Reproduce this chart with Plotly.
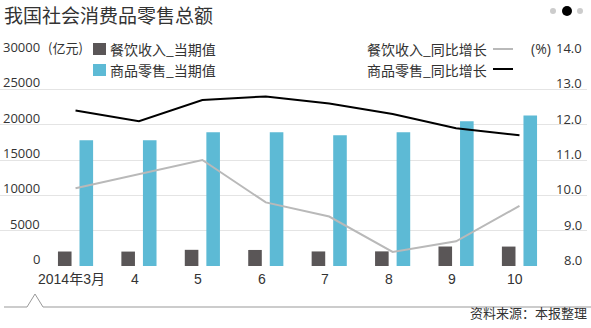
import plotly.graph_objects as go

# ---- data ----
months = ["2014年3月", "4", "5", "6", "7", "8", "9", "10"]
catering_value = [2050, 2040, 2290, 2270, 2060, 2070, 2760, 2750]          # 亿元
goods_value = [17800, 17800, 18930, 18930, 18510, 18930, 20490, 21300]     # 亿元
catering_yoy = [10.2, 10.6, 11.0, 9.8, 9.4, 8.4, 8.7, 9.7]                 # %
goods_yoy = [12.4, 12.1, 12.7, 12.8, 12.6, 12.3, 11.9, 11.7]               # %
left_ticks = [0, 5000, 10000, 15000, 20000, 25000, 30000]
right_ticks = [8.0, 9.0, 10.0, 11.0, 12.0, 13.0, 14.0]

title = "我国社会消费品零售总额"
source = "资料来源：本报整理"

# ---- style ----
DARK = "#5a5657"
BLUE = "#5dbad5"
GRAY_LINE = "#b9b9b9"
GRID = "#e4e4e4"
TEXT = "#333333"
CJK = "Noto Sans CJK SC"
NUM = "Open Sans"

W, H = 591, 328
M_L, M_R, M_T, M_B = 0, 4, 54, 62
PW = W - M_L - M_R
PH = H - M_T - M_B


def px_x(p):
    return (p - M_L) / PW


def px_y(p):
    return (H - M_B - p) / PH


x = list(range(len(months)))
# category 0 centred at ~75px, spacing ~63.4px
step = 63.4
x_range = [-(75.5 - M_L) / step, (len(months) - 1) + (M_L + PW - 519.5) / step]

fig = go.Figure()
fig.add_trace(go.Bar(x=x, y=catering_value, marker_color=DARK, marker_line_width=0,
                     name="餐饮收入_当期值"))
fig.add_trace(go.Bar(x=x, y=goods_value, marker_color=BLUE, marker_line_width=0,
                     name="商品零售_当期值"))
fig.add_trace(go.Scatter(x=x, y=catering_yoy, yaxis="y2", mode="lines",
                         line=dict(color=GRAY_LINE, width=2), name="餐饮收入_同比增长"))
fig.add_trace(go.Scatter(x=x, y=goods_yoy, yaxis="y2", mode="lines",
                         line=dict(color="#000000", width=2), name="商品零售_同比增长"))

annotations = []
# left axis labels
for v in left_ticks:
    annotations.append(dict(x=px_x(42), xref="paper", y=v, yref="y", text=str(v),
                            xanchor="right", yanchor="middle", yshift=7, showarrow=False,
                            font=dict(family=NUM, size=13, color=TEXT)))
annotations.append(dict(x=px_x(46), xref="paper", y=left_ticks[-1], yref="y", text="(亿元)",
                        xanchor="left", yanchor="middle", yshift=7, showarrow=False,
                        font=dict(family=CJK, size=13, color=TEXT)))
# right axis labels
for v in right_ticks:
    annotations.append(dict(x=px_x(584), xref="paper", y=v, yref="y2", text=f"{v:.1f}",
                            xanchor="right", yanchor="middle", yshift=6, showarrow=False,
                            font=dict(family=NUM, size=13, color=TEXT)))
annotations.append(dict(x=px_x(553), xref="paper", y=right_ticks[-1], yref="y2", text="(%)",
                        xanchor="right", yanchor="middle", yshift=6, showarrow=False,
                        font=dict(family=NUM, size=14, color=TEXT)))
# category labels
for i, m in enumerate(months):
    annotations.append(dict(x=i, xref="x", y=px_y(279), yref="paper", text=m,
                            xanchor="center", yanchor="middle", xshift=-4, showarrow=False,
                            font=dict(family="Liberation Sans, " + CJK, size=14, color=TEXT)))
# legend texts
annotations += [
    dict(x=px_x(108), xref="paper", y=px_y(49), yref="paper", text="餐饮收入_当期值",
         xanchor="left", yanchor="middle", showarrow=False, font=dict(family=CJK, size=14, color=TEXT)),
    dict(x=px_x(108), xref="paper", y=px_y(70), yref="paper", text="商品零售_当期值",
         xanchor="left", yanchor="middle", showarrow=False, font=dict(family=CJK, size=14, color=TEXT)),
    dict(x=px_x(489), xref="paper", y=px_y(49), yref="paper", text="餐饮收入_同比增长",
         xanchor="right", yanchor="middle", showarrow=False, font=dict(family=CJK, size=14, color=TEXT)),
    dict(x=px_x(489), xref="paper", y=px_y(70), yref="paper", text="商品零售_同比增长",
         xanchor="right", yanchor="middle", showarrow=False, font=dict(family=CJK, size=14, color=TEXT)),
    dict(x=px_x(2), xref="paper", y=px_y(14), yref="paper", text=title,
         xanchor="left", yanchor="middle", showarrow=False, font=dict(family=CJK, size=19, color=TEXT)),
    dict(x=px_x(589), xref="paper", y=px_y(312), yref="paper", text=source,
         xanchor="right", yanchor="middle", showarrow=False, font=dict(family=CJK, size=13, color=TEXT)),
]

shapes = [
    # legend swatches
    dict(type="rect", xref="paper", yref="paper", x0=px_x(93), x1=px_x(106), y0=px_y(55), y1=px_y(43),
         fillcolor=DARK, line_width=0),
    dict(type="rect", xref="paper", yref="paper", x0=px_x(93), x1=px_x(106), y0=px_y(76), y1=px_y(64),
         fillcolor=BLUE, line_width=0),
    dict(type="line", xref="paper", yref="paper", x0=px_x(493), x1=px_x(513), y0=px_y(49), y1=px_y(49),
         line=dict(color=GRAY_LINE, width=2)),
    dict(type="line", xref="paper", yref="paper", x0=px_x(493), x1=px_x(513), y0=px_y(69), y1=px_y(69),
         line=dict(color="#000000", width=2)),
    # page indicator dots
    dict(type="circle", xref="paper", yref="paper", x0=px_x(550), x1=px_x(556), y0=px_y(14), y1=px_y(8),
         fillcolor="#cccccc", line_width=0),
    dict(type="circle", xref="paper", yref="paper", x0=px_x(562), x1=px_x(572), y0=px_y(16), y1=px_y(6),
         fillcolor="#000000", line_width=0),
    dict(type="circle", xref="paper", yref="paper", x0=px_x(577), x1=px_x(583), y0=px_y(14), y1=px_y(8),
         fillcolor="#cccccc", line_width=0),
    # bottom rule with pointer notch
    dict(type="path", xref="paper", yref="paper",
         path=(f"M {px_x(4)},{px_y(307)} L {px_x(27)},{px_y(307)} L {px_x(35)},{px_y(294)} "
               f"L {px_x(43)},{px_y(307)} L {px_x(591)},{px_y(307)}"),
         line=dict(color="#999999", width=1)),
]

fig.update_layout(
    width=W, height=H,
    margin=dict(l=M_L, r=M_R, t=M_T, b=M_B),
    paper_bgcolor="white", plot_bgcolor="white",
    barmode="group", bargap=0.32, bargroupgap=0.37,
    showlegend=False,
    xaxis=dict(range=x_range, showticklabels=False, showgrid=False, zeroline=False, ticks=""),
    yaxis=dict(range=[left_ticks[0], left_ticks[-1]], tickvals=left_ticks, showticklabels=False,
               showgrid=True, gridcolor=GRID, gridwidth=1, zeroline=False, ticks=""),
    yaxis2=dict(range=[right_ticks[0], right_ticks[-1]], overlaying="y", side="right",
                showticklabels=False, showgrid=False, zeroline=False, ticks=""),
    annotations=annotations,
    shapes=shapes,
)

fig.write_html("out.html")
